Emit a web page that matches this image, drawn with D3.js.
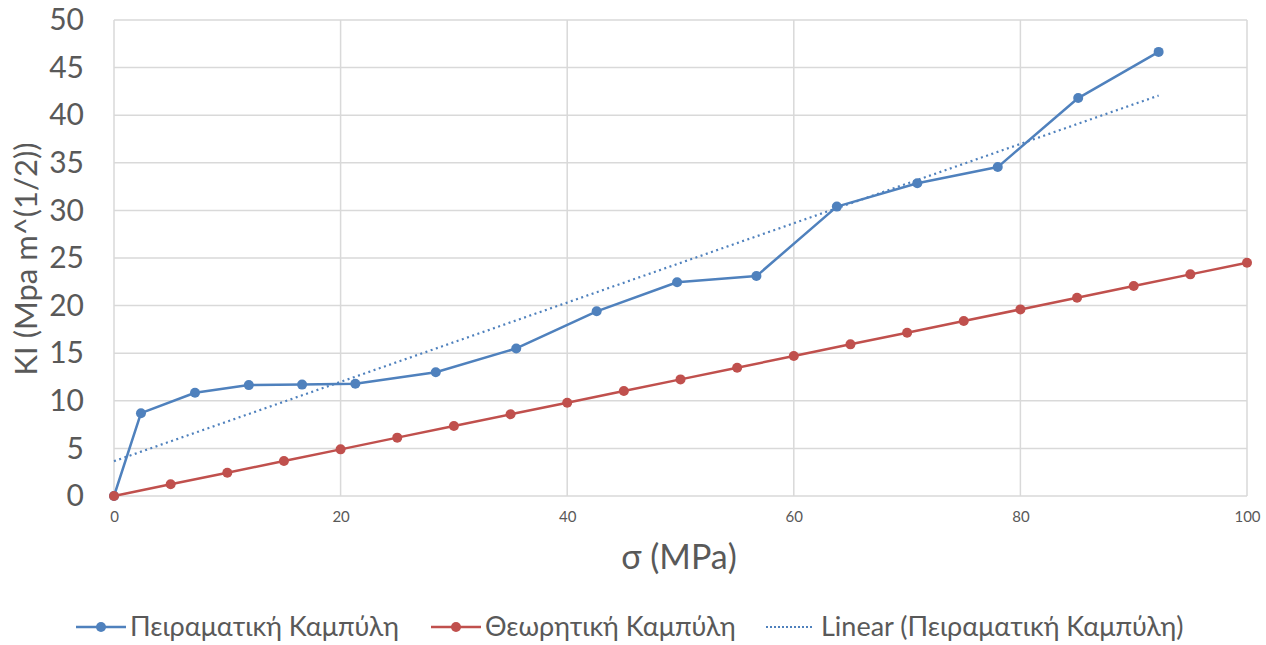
<!DOCTYPE html>
<html>
<head>
<meta charset="utf-8">
<script src="https://cdn.jsdelivr.net/npm/d3@7"></script>
<style>
  html, body { margin: 0; padding: 0; background: #fff; }
  svg text { font-family: Lato, "Open Sans", "Liberation Sans", sans-serif; fill: #595959; }
</style>
</head>
<body>
<svg id="chart" width="1266" height="645"></svg>
<script>
// Experimental curve (σ in MPa, KI in MPa·m^(1/2))
const expSigma = [0, 2.38, 7.15, 11.9, 16.6, 21.3, 28.4, 35.5, 42.6, 49.7, 56.7, 63.8, 70.9, 78.0, 85.1, 92.2];
const expK     = [0, 8.7, 10.85, 11.65, 11.7, 11.8, 13.0, 15.5, 19.4, 22.45, 23.1, 30.4, 32.85, 34.55, 41.8, 46.65];

// Theoretical curve
const theoSigma = [0, 5, 10, 15, 20, 25, 30, 35, 40, 45, 50, 55, 60, 65, 70, 75, 80, 85, 90, 95, 100];
const theoK     = [0, 1.23, 2.45, 3.68, 4.9, 6.13, 7.35, 8.58, 9.8, 11.03, 12.25, 13.48, 14.7, 15.93, 17.15, 18.38, 19.6, 20.83, 22.05, 23.28, 24.5];

const xTicks = [0, 20, 40, 60, 80, 100];
const yTicks = [0, 5, 10, 15, 20, 25, 30, 35, 40, 45, 50];

const seriesNames = ["Πειραματική Καμπύλη", "Θεωρητική Καμπύλη", "Linear (Πειραματική Καμπύλη)"];
const xTitle = "σ (MPa)";
const yTitle = "KI (Mpa m^(1/2))";

const blue = "#4f81bd", red = "#c0504d", grid = "#d9d9d9";

const svg = d3.select("#chart");
const plot = { left: 114, right: 1247, top: 20, bottom: 496 };

const x = d3.scaleLinear().domain([0, 100]).range([plot.left, plot.right]);
const y = d3.scaleLinear().domain([0, 50]).range([plot.bottom, plot.top]);

// Gridlines
const g = svg.append("g");
g.selectAll("line.h").data(yTicks).join("line")
  .attr("x1", plot.left).attr("x2", plot.right)
  .attr("y1", d => y(d)).attr("y2", d => y(d))
  .attr("stroke", grid).attr("stroke-width", 1.5);
g.selectAll("line.v").data(xTicks).join("line")
  .attr("y1", plot.top).attr("y2", plot.bottom)
  .attr("x1", d => x(d)).attr("x2", d => x(d))
  .attr("stroke", grid).attr("stroke-width", 1.5);

// Axis tick labels
const yAxis = d3.axisLeft(y).tickValues(yTicks).tickSize(0).tickPadding(0);
const ya = svg.append("g").attr("transform", `translate(${plot.left - 30},0)`).call(yAxis);
ya.select(".domain").remove();
ya.selectAll("text").attr("font-size", 30).attr("fill", "#595959")
  .style("font-family", "Lato, 'Open Sans', sans-serif");

const xAxis = d3.axisBottom(x).tickValues(xTicks).tickSize(0).tickPadding(0);
const xa = svg.append("g").attr("transform", `translate(0,${plot.bottom + 15})`).call(xAxis);
xa.select(".domain").remove();
xa.selectAll("text").attr("font-size", 15).attr("fill", "#6a6a6a")
  .style("font-family", "Lato, 'Open Sans', sans-serif");

// Axis titles
svg.append("text").attr("x", 679).attr("y", 569).attr("text-anchor", "middle")
  .attr("font-size", 34).text(xTitle);
svg.append("text").attr("transform", "translate(37,259) rotate(-90)")
  .attr("text-anchor", "middle").attr("font-size", 31).text(yTitle);

// Least-squares trendline of the experimental curve
const n = expSigma.length;
const mx = d3.mean(expSigma), my = d3.mean(expK);
let sxy = 0, sxx = 0;
for (let i = 0; i < n; i++) { sxy += (expSigma[i] - mx) * (expK[i] - my); sxx += (expSigma[i] - mx) ** 2; }
const slope = sxy / sxx, icpt = my - slope * mx;
const trendX = [0, d3.max(expSigma)];

svg.append("line")
  .attr("x1", x(trendX[0])).attr("y1", y(icpt + slope * trendX[0]))
  .attr("x2", x(trendX[1])).attr("y2", y(icpt + slope * trendX[1]))
  .attr("stroke", blue).attr("stroke-width", 2.2).attr("stroke-dasharray", "2 3.5");

const line = d3.line().x(d => x(d[0])).y(d => y(d[1]));
const theo = theoSigma.map((s, i) => [s, theoK[i]]);
const exp = expSigma.map((s, i) => [s, expK[i]]);

function drawSeries(data, color) {
  svg.append("path").datum(data).attr("d", line)
    .attr("fill", "none").attr("stroke", color).attr("stroke-width", 2.5)
    .attr("stroke-linejoin", "round");
  svg.append("g").selectAll("circle").data(data).join("circle")
    .attr("cx", d => x(d[0])).attr("cy", d => y(d[1])).attr("r", 5)
    .attr("fill", color);
}
drawSeries(exp, blue);
drawSeries(theo, red);

// Legend
const legY = 627;
const legend = [
  { x0: 76, x1: 126, color: blue, marker: true, dash: null, tx: 130 },
  { x0: 431, x1: 481, color: red, marker: true, dash: null, tx: 485 },
  { x0: 766, x1: 812, color: blue, marker: false, dash: "2 2", tx: 821 }
];
legend.forEach((l, i) => {
  svg.append("line").attr("x1", l.x0).attr("x2", l.x1).attr("y1", legY).attr("y2", legY)
    .attr("stroke", l.color).attr("stroke-width", l.marker ? 2.5 : 1.8)
    .attr("stroke-dasharray", l.dash);
  if (l.marker) svg.append("circle").attr("cx", (l.x0 + l.x1) / 2).attr("cy", legY).attr("r", 5).attr("fill", l.color);
  svg.append("text").attr("x", l.tx).attr("y", legY).attr("dy", "0.35em")
    .attr("font-size", 27).text(seriesNames[i]);
});
</script>
</body>
</html>
